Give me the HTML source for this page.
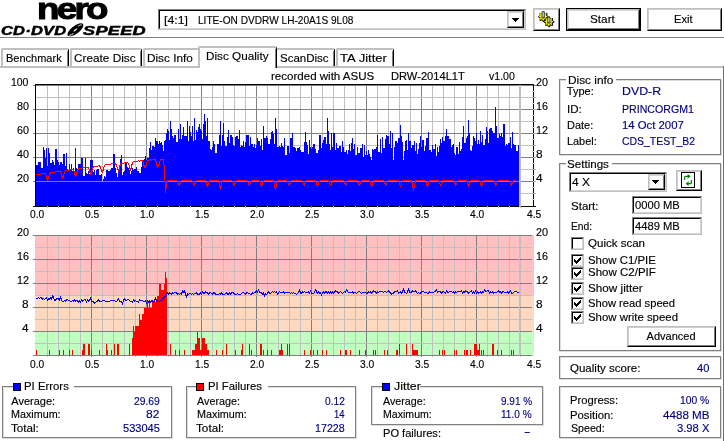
<!DOCTYPE html>
<html lang="en"><head><meta charset="utf-8"><title>Nero CD-DVD Speed</title>
<style>
html,body{margin:0;padding:0;background:#fff;}
body{width:724px;height:441px;position:relative;overflow:hidden;font-family:"Liberation Sans",sans-serif;font-size:11px;color:#000;}
.t{position:absolute;white-space:pre;line-height:14px;transform-origin:0 0;-webkit-text-stroke:0.15px currentColor;}
#logo{position:absolute;left:0;top:0;width:150px;height:37px;}
.nero{position:absolute;left:36.5px;top:-8.5px;-webkit-text-stroke:1px #000;font-size:30px;font-weight:bold;letter-spacing:-2.2px;line-height:34px;transform:scaleX(1.225);transform-origin:0 0;}
.cds{position:absolute;left:1px;top:23px;-webkit-text-stroke:0.5px #000;font-size:12.5px;font-weight:bold;font-style:italic;line-height:16px;transform:scaleX(1.31);transform-origin:0 0;letter-spacing:0.2px;}
.cds2{left:83px;transform:scaleX(1.45);}
.disc{position:absolute;left:65px;top:21px;}
.arr{position:absolute;left:4px;top:6px;}
</style></head>
<body>
<div id="logo">
<span class="nero">nero</span>
<span class="cds">CD·DVD</span><svg class="disc" width="20" height="18" viewBox="65 21 20 18"><g transform="rotate(-37 75.4 29.8)"><ellipse cx="75.4" cy="29.8" rx="9.5" ry="3.9" fill="#000"/><ellipse cx="75.2" cy="29.9" rx="2.4" ry="0.75" fill="#fff"/><path d="M79.5 28.3 Q82 28.6 83.6 29.6" stroke="#fff" stroke-width="0.7" fill="none"/><path d="M67.2 30.6 Q69 31.6 71.6 31.6" stroke="#fff" stroke-width="0.9" fill="none"/></g></svg><span class="cds cds2">SPEED</span>
</div>
<div style="position:absolute;left:0px;top:37px;width:724px;height:1px;background:#808080;"></div>
<div style="position:absolute;left:158px;top:9px;width:368px;height:21px;box-sizing:border-box;border:1px solid;border-color:#808080 #c0c0c0 #c0c0c0 #808080;background:#fff;"><div style="position:absolute;inset:0;border:1px solid;border-color:#000 #d4d4d4 #d4d4d4 #000;"></div></div>
<div style="position:absolute;left:507px;top:11px;width:17px;height:17px;box-sizing:border-box;border:1px solid;border-color:#c0c0c0 #000 #000 #c0c0c0;background:#fff;"><div style="position:absolute;inset:0;border:1px solid;border-color:#d4d4d4 #808080 #808080 #d4d4d4;"></div><svg class="arr" style="left:4px;top:6px" width="7" height="4" viewBox="0 0 7 4" shape-rendering="crispEdges"><path d="M0 0h7v1h-1v1h-1v1h-1v1h-1v-1h-1v-1h-1v-1h-1z" fill="#000"/></svg></div>
<span class="t th" style="left:164.04px;top:13.19px;font-size:11px;transform:scaleX(1.1205);">[4:1]</span>
<span class="t th" style="left:198.04px;top:13.19px;font-size:11px;transform:scaleX(0.9191);">LITE-ON DVDRW LH-20A1S 9L08</span>
<div style="position:absolute;left:533px;top:8px;width:27px;height:23px;box-sizing:border-box;border:1px solid;border-color:#c0c0c0 #000 #000 #c0c0c0;background:#fff;"><div style="position:absolute;inset:0;border:1px solid;border-color:#cfcfcf #808080 #808080 #cfcfcf;"></div></div>
<svg width="27" height="23" viewBox="533 8 27 23" style="position:absolute;left:533px;top:8px"><path d="M548.77,16.28L548.77,17.32L547.42,17.99L547.12,18.73L547.60,20.16L546.86,20.90L545.43,20.42L544.69,20.72L544.02,22.07L542.98,22.07L542.31,20.72L541.57,20.42L540.14,20.90L539.40,20.16L539.88,18.73L539.58,17.99L538.23,17.32L538.23,16.28L539.58,15.61L539.88,14.87L539.40,13.44L540.14,12.70L541.57,13.18L542.31,12.88L542.98,11.53L544.02,11.53L544.69,12.88L545.43,13.18L546.86,12.70L547.60,13.44L547.12,14.87L547.42,15.61Z" fill="#000"/><path d="M547.48,15.98L547.48,16.82L546.17,17.30L545.93,17.86L546.52,19.13L545.93,19.72L544.66,19.13L544.10,19.37L543.62,20.68L542.78,20.68L542.30,19.37L541.74,19.13L540.47,19.72L539.88,19.13L540.47,17.86L540.23,17.30L538.92,16.82L538.92,15.98L540.23,15.50L540.47,14.94L539.88,13.67L540.47,13.08L541.74,13.67L542.30,13.43L542.78,12.12L543.62,12.12L544.10,13.43L544.66,13.67L545.93,13.08L546.52,13.67L545.93,14.94L546.17,15.50Z" fill="#f8f400"/><circle cx="543.2" cy="17.0" r="1.9" fill="#8c8800"/><rect x="542.0" y="12.0" width="2.4" height="5.2" fill="#b8b8c4" stroke="#3c3c44" stroke-width="0.7"/><path d="M541.7,12.1 l1.5,-1.3 l1.5,1.3z" fill="#44444c"/><path d="M554.37,21.48L554.37,22.52L553.02,23.19L552.72,23.93L553.20,25.36L552.46,26.10L551.03,25.62L550.29,25.92L549.62,27.27L548.58,27.27L547.91,25.92L547.17,25.62L545.74,26.10L545.00,25.36L545.48,23.93L545.18,23.19L543.83,22.52L543.83,21.48L545.18,20.81L545.48,20.07L545.00,18.64L545.74,17.90L547.17,18.38L547.91,18.08L548.58,16.73L549.62,16.73L550.29,18.08L551.03,18.38L552.46,17.90L553.20,18.64L552.72,20.07L553.02,20.81Z" fill="#000"/><path d="M553.08,21.18L553.08,22.02L551.77,22.50L551.53,23.06L552.12,24.33L551.53,24.92L550.26,24.33L549.70,24.57L549.22,25.88L548.38,25.88L547.90,24.57L547.34,24.33L546.07,24.92L545.48,24.33L546.07,23.06L545.83,22.50L544.52,22.02L544.52,21.18L545.83,20.70L546.07,20.14L545.48,18.87L546.07,18.28L547.34,18.87L547.90,18.63L548.38,17.32L549.22,17.32L549.70,18.63L550.26,18.87L551.53,18.28L552.12,18.87L551.53,20.14L551.77,20.70Z" fill="#f8f400"/><circle cx="548.8" cy="22.200000000000003" r="1.9" fill="#8c8800"/><rect x="547.6" y="17.2" width="2.4" height="5.2" fill="#b8b8c4" stroke="#3c3c44" stroke-width="0.7"/><path d="M547.3,17.3 l1.5,-1.3 l1.5,1.3z" fill="#44444c"/></svg>
<div style="position:absolute;left:566px;top:8px;width:75px;height:23px;box-sizing:border-box;border:1px solid #000;background:#fff;"><div style="position:absolute;inset:0;border:1px solid;border-color:#c0c0c0 #000 #000 #c0c0c0;"><div style="position:absolute;inset:0;border:1px solid;border-color:#d8d8d8 #808080 #808080 #d8d8d8;"></div></div></div>
<span class="t th" style="left:590.07px;top:12.19px;font-size:11px;transform:scaleX(1.0697);">Start</span>
<div style="position:absolute;left:647px;top:8px;width:75px;height:23px;box-sizing:border-box;border:1px solid;border-color:#c0c0c0 #000 #000 #c0c0c0;background:#fff;"><div style="position:absolute;inset:0;border:1px solid;border-color:#cfcfcf #808080 #808080 #cfcfcf;"></div></div>
<span class="t th" style="left:673.89px;top:12.19px;font-size:11px;transform:scaleX(1.0148);">Exit</span>
<div style="position:absolute;left:0px;top:66px;width:724px;height:2px;background:#c0c0c0;"></div>
<div style="position:absolute;left:723px;top:66px;width:1px;height:375px;background:#6c6c6c;"></div>
<div style="position:absolute;left:1px;top:48px;width:68px;height:18px;box-sizing:border-box;background:#fff;border-top:2px solid #c0c0c0;border-left:2px solid #c0c0c0;border-right:1px solid #000;border-top-left-radius:2px;border-top-right-radius:2px;"><div style="position:absolute;right:0;top:1px;bottom:0;width:1px;background:#808080;"></div></div>
<span class="t " style="left:6.00px;top:51.19px;font-size:11px;">Benchmark</span>
<div style="position:absolute;left:70px;top:48px;width:72px;height:18px;box-sizing:border-box;background:#fff;border-top:2px solid #c0c0c0;border-left:2px solid #c0c0c0;border-right:1px solid #000;border-top-left-radius:2px;border-top-right-radius:2px;"><div style="position:absolute;right:0;top:1px;bottom:0;width:1px;background:#808080;"></div></div>
<span class="t " style="left:73.96px;top:51.19px;font-size:11px;transform:scaleX(1.0714);">Create Disc</span>
<div style="position:absolute;left:143px;top:48px;width:57px;height:18px;box-sizing:border-box;background:#fff;border-top:2px solid #c0c0c0;border-left:2px solid #c0c0c0;border-right:1px solid #000;border-top-left-radius:2px;border-top-right-radius:2px;"><div style="position:absolute;right:0;top:1px;bottom:0;width:1px;background:#808080;"></div></div>
<span class="t " style="left:147.47px;top:51.19px;font-size:11px;transform:scaleX(1.0691);">Disc Info</span>
<div style="position:absolute;left:275px;top:48px;width:60px;height:18px;box-sizing:border-box;background:#fff;border-top:2px solid #c0c0c0;border-left:2px solid #c0c0c0;border-right:1px solid #000;border-top-left-radius:2px;border-top-right-radius:2px;"><div style="position:absolute;right:0;top:1px;bottom:0;width:1px;background:#808080;"></div></div>
<span class="t " style="left:280.28px;top:51.19px;font-size:11px;transform:scaleX(1.0447);">ScanDisc</span>
<div style="position:absolute;left:336px;top:48px;width:58px;height:18px;box-sizing:border-box;background:#fff;border-top:2px solid #c0c0c0;border-left:2px solid #c0c0c0;border-right:1px solid #000;border-top-left-radius:2px;border-top-right-radius:2px;"><div style="position:absolute;right:0;top:1px;bottom:0;width:1px;background:#808080;"></div></div>
<span class="t " style="left:340.21px;top:51.19px;font-size:11px;transform:scaleX(1.1882);">TA Jitter</span>
<div style="position:absolute;left:198px;top:46px;width:79px;height:22px;box-sizing:border-box;background:#fff;border-top:2px solid #c0c0c0;border-left:2px solid #c0c0c0;border-right:1px solid #000;border-top-left-radius:2px;border-top-right-radius:2px;"><div style="position:absolute;right:0;top:1px;bottom:0;width:1px;background:#808080;"></div></div>
<span class="t " style="left:206.27px;top:49.19px;font-size:11px;transform:scaleX(1.0661);">Disc Quality</span>
<span class="t " style="left:270.98px;top:69.19px;font-size:11px;transform:scaleX(1.0494);">recorded with ASUS</span>
<span class="t " style="left:391.19px;top:69.19px;font-size:11px;transform:scaleX(1.0116);">DRW-2014L1T</span>
<span class="t " style="left:488.92px;top:69.19px;font-size:11px;transform:scaleX(0.9600);">v1.00</span>
<svg width="560" height="300" viewBox="0 70 560 300" style="position:absolute;left:0;top:70px" shape-rendering="crispEdges">
<rect x="35" y="235" width="499" height="61" fill="#ffc0c0"/>
<rect x="35" y="296" width="499" height="36" fill="#ffd8c0"/>
<rect x="35" y="332" width="499" height="24" fill="#c0ffc0"/>
<rect x="33" y="206" width="503" height="1" fill="#000"/>
<rect x="47" y="85" width="1" height="123" fill="#c0c0c0"/>
<rect x="58" y="85" width="1" height="123" fill="#c0c0c0"/>
<rect x="69" y="85" width="1" height="123" fill="#c0c0c0"/>
<rect x="80" y="85" width="1" height="123" fill="#c0c0c0"/>
<rect x="91" y="85" width="1" height="123" fill="#808080"/>
<rect x="102" y="85" width="1" height="123" fill="#c0c0c0"/>
<rect x="113" y="85" width="1" height="123" fill="#c0c0c0"/>
<rect x="124" y="85" width="1" height="123" fill="#c0c0c0"/>
<rect x="135" y="85" width="1" height="123" fill="#c0c0c0"/>
<rect x="146" y="85" width="1" height="123" fill="#808080"/>
<rect x="157" y="85" width="1" height="123" fill="#c0c0c0"/>
<rect x="168" y="85" width="1" height="123" fill="#c0c0c0"/>
<rect x="179" y="85" width="1" height="123" fill="#c0c0c0"/>
<rect x="190" y="85" width="1" height="123" fill="#c0c0c0"/>
<rect x="201" y="85" width="1" height="123" fill="#808080"/>
<rect x="212" y="85" width="1" height="123" fill="#c0c0c0"/>
<rect x="223" y="85" width="1" height="123" fill="#c0c0c0"/>
<rect x="234" y="85" width="1" height="123" fill="#c0c0c0"/>
<rect x="245" y="85" width="1" height="123" fill="#c0c0c0"/>
<rect x="256" y="85" width="1" height="123" fill="#808080"/>
<rect x="267" y="85" width="1" height="123" fill="#c0c0c0"/>
<rect x="278" y="85" width="1" height="123" fill="#c0c0c0"/>
<rect x="289" y="85" width="1" height="123" fill="#c0c0c0"/>
<rect x="300" y="85" width="1" height="123" fill="#c0c0c0"/>
<rect x="311" y="85" width="1" height="123" fill="#808080"/>
<rect x="322" y="85" width="1" height="123" fill="#c0c0c0"/>
<rect x="333" y="85" width="1" height="123" fill="#c0c0c0"/>
<rect x="344" y="85" width="1" height="123" fill="#c0c0c0"/>
<rect x="355" y="85" width="1" height="123" fill="#c0c0c0"/>
<rect x="366" y="85" width="1" height="123" fill="#808080"/>
<rect x="377" y="85" width="1" height="123" fill="#c0c0c0"/>
<rect x="388" y="85" width="1" height="123" fill="#c0c0c0"/>
<rect x="399" y="85" width="1" height="123" fill="#c0c0c0"/>
<rect x="410" y="85" width="1" height="123" fill="#c0c0c0"/>
<rect x="421" y="85" width="1" height="123" fill="#808080"/>
<rect x="432" y="85" width="1" height="123" fill="#c0c0c0"/>
<rect x="443" y="85" width="1" height="123" fill="#c0c0c0"/>
<rect x="454" y="85" width="1" height="123" fill="#c0c0c0"/>
<rect x="465" y="85" width="1" height="123" fill="#c0c0c0"/>
<rect x="476" y="85" width="1" height="123" fill="#808080"/>
<rect x="487" y="85" width="1" height="123" fill="#c0c0c0"/>
<rect x="498" y="85" width="1" height="123" fill="#c0c0c0"/>
<rect x="509" y="85" width="1" height="123" fill="#c0c0c0"/>
<rect x="520" y="85" width="1" height="123" fill="#c0c0c0"/>
<rect x="33" y="85" width="503" height="1" fill="#808080"/>
<rect x="35" y="97" width="501" height="1" fill="#c0c0c0"/>
<rect x="33" y="109" width="503" height="1" fill="#808080"/>
<rect x="35" y="121" width="501" height="1" fill="#c0c0c0"/>
<rect x="33" y="133" width="503" height="1" fill="#808080"/>
<rect x="35" y="145" width="501" height="1" fill="#c0c0c0"/>
<rect x="33" y="157" width="503" height="1" fill="#808080"/>
<rect x="35" y="169" width="501" height="1" fill="#c0c0c0"/>
<rect x="33" y="181" width="503" height="1" fill="#808080"/>
<rect x="35" y="193" width="501" height="1" fill="#c0c0c0"/>
<path d="M36,206V165H37V165H38V162H39V162H40V162H41V168H42V168H43V147H44V150H45V158H46V148H47V166H48V148H49V153H50V163H51V163H52V160H53V162H54V165H55V149H56V149H57V160H58V162H59V165H60V162H61V162H62V164H63V154H64V154H65V166H66V153H67V169H68V171H69V164H70V170H71V164H72V171H73V168H74V173H75V148H76V168H77V173H78V164H79V164H80V164H81V158H82V158H83V176H84V176H85V158H86V173H87V174H88V171H89V174H90V160H91V160H92V160H93V172H94V170H95V175H96V170H97V169H98V169H99V175H100V175H101V174H102V181H103V179H104V176H105V177H106V170H107V170H108V171H109V171H110V170H111V168H112V168H113V154H114V154H115V168H116V173H117V177H118V171H119V168H120V159H121V155H122V175H123V172H124V171H125V163H126V163H127V167H128V168H129V170H130V174H131V171H132V168H133V170H134V169H135V169H136V167H137V171H138V171H139V173H140V173H141V167H142V160H143V160H144V159H145V156H146V160H147V158H148V158H149V148H150V142H151V150H152V146H153V146H154V147H155V138H156V141H157V141H158V144H159V141H160V143H161V142H162V145H163V151H164V141H165V140H166V133H167V129H168V131H169V140H170V121H171V129H172V136H173V138H174V135H175V135H176V142H177V142H178V129H179V139H180V124H181V139H182V135H183V127H184V136H185V136H186V136H187V121H188V141H189V126H190V132H191V136H192V126H193V141H194V118H195V140H196V130H197V132H198V127H199V124H200V129H201V131H202V139H203V124H204V114H205V121H206V136H207V118H208V141H209V141H210V149H211V150H212V147H213V141H214V144H215V153H216V153H217V144H218V144H219V135H220V121H221V146H222V135H223V123H224V141H225V146H226V146H227V137H228V130H229V143H230V135H231V135H232V137H233V145H234V146H235V137H236V136H237V136H238V139H239V130H240V147H241V145H242V146H243V141H244V147H245V142H246V135H247V135H248V135H249V146H250V137H251V144H252V144H253V147H254V144H255V148H256V145H257V138H258V141H259V141H260V146H261V139H262V150H263V126H264V138H265V138H266V136H267V138H268V144H269V144H270V139H271V132H272V131H273V134H274V144H275V118H276V129H277V147H278V147H279V146H280V147H281V143H282V146H283V147H284V138H285V155H286V155H287V146H288V146H289V153H290V138H291V138H292V133H293V147H294V147H295V148H296V151H297V148H298V148H299V147H300V150H301V152H302V152H303V152H304V142H305V132H306V142H307V145H308V154H309V140H310V147H311V149H312V147H313V144H314V144H315V149H316V153H317V153H318V150H319V135H320V135H321V148H322V143H323V140H324V137H325V137H326V144H327V118H328V131H329V144H330V150H331V133H332V147H333V133H334V133H335V150H336V143H337V148H338V148H339V146H340V146H341V152H342V141H343V147H344V152H345V152H346V150H347V154H348V150H349V144H350V151H351V143H352V138H353V149H354V144H355V155H356V155H357V147H358V153H359V153H360V148H361V148H362V144H363V157H364V145H365V155H366V151H367V155H368V150H369V154H370V157H371V160H372V149H373V150H374V149H375V149H376V147H377V135H378V152H379V152H380V139H381V153H382V137H383V148H384V148H385V139H386V135H387V136H388V136H389V144H390V131H391V148H392V133H393V160H394V147H395V141H396V141H397V143H398V138H399V138H400V125H401V136H402V142H403V160H404V151H405V141H406V140H407V150H408V133H409V141H410V141H411V148H412V145H413V145H414V141H415V151H416V143H417V154H418V149H419V143H420V136H421V147H422V140H423V140H424V151H425V146H426V138H427V138H428V132H429V150H430V150H431V152H432V145H433V149H434V149H435V144H436V156H437V147H438V152H439V146H440V139H441V143H442V137H443V141H444V141H445V136H446V129H447V136H448V136H449V139H450V139H451V147H452V145H453V144H454V153H455V155H456V147H457V147H458V154H459V142H460V151H461V149H462V137H463V126H464V143H465V143H466V138H467V136H468V120H469V133H470V150H471V151H472V146H473V136H474V138H475V141H476V133H477V144H478V140H479V144H480V131H481V142H482V135H483V145H484V145H485V139H486V127H487V131H488V143H489V129H490V128H491V128H492V131H493V133H494V133H495V107H496V126H497V138H498V138H499V134H500V136H501V133H502V137H503V124H504V124H505V146H506V144H507V145H508V143H509V143H510V137H511V148H512V132H513V144H514V145H515V145H516V151H517V151H518V145H519V143H520V206Z" fill="#0000ff"/>
<rect x="33" y="181" width="503" height="1" fill="#808080"/>
<rect x="519" y="85" width="2" height="122" fill="#c0c0c0"/>
<rect x="35" y="84" width="499" height="1" fill="#000"/>
<rect x="35" y="84" width="1" height="123" fill="#000"/>
<rect x="533" y="84" width="1" height="123" fill="#000"/>
<rect x="532" y="91" width="3" height="1" fill="#d0d0d0"/>
<rect x="532" y="97" width="4" height="1" fill="#b0b0b0"/>
<rect x="532" y="103" width="3" height="1" fill="#d0d0d0"/>
<rect x="532" y="109" width="4" height="1" fill="#b0b0b0"/>
<rect x="532" y="115" width="3" height="1" fill="#d0d0d0"/>
<rect x="532" y="121" width="4" height="1" fill="#b0b0b0"/>
<rect x="532" y="127" width="3" height="1" fill="#d0d0d0"/>
<rect x="532" y="133" width="4" height="1" fill="#b0b0b0"/>
<rect x="532" y="139" width="3" height="1" fill="#d0d0d0"/>
<rect x="532" y="145" width="4" height="1" fill="#b0b0b0"/>
<rect x="532" y="151" width="3" height="1" fill="#d0d0d0"/>
<rect x="532" y="157" width="4" height="1" fill="#b0b0b0"/>
<rect x="532" y="163" width="3" height="1" fill="#d0d0d0"/>
<rect x="532" y="169" width="4" height="1" fill="#b0b0b0"/>
<rect x="532" y="175" width="3" height="1" fill="#d0d0d0"/>
<rect x="532" y="181" width="4" height="1" fill="#b0b0b0"/>
<rect x="532" y="187" width="3" height="1" fill="#d0d0d0"/>
<rect x="532" y="193" width="4" height="1" fill="#b0b0b0"/>
<rect x="532" y="199" width="3" height="1" fill="#d0d0d0"/>
<path d="M36,174h1v1h-1zM37,174h1v1h-1zM38,174h1v1h-1zM39,174h1v1h-1zM40,174h1v1h-1zM41,173h1v1h-1zM42,173h1v1h-1zM43,173h1v1h-1zM44,173h1v1h-1zM45,173h1v2h-1zM46,175h1v4h-1zM47,178h1v3h-1zM48,176h1v4h-1zM49,173h1v4h-1zM50,172h1v2h-1zM51,172h1v1h-1zM52,172h1v1h-1zM53,172h1v1h-1zM54,172h1v1h-1zM55,171h1v1h-1zM56,171h1v1h-1zM57,171h1v1h-1zM58,171h1v1h-1zM59,171h1v1h-1zM60,171h1v2h-1zM61,173h1v4h-1zM62,176h1v3h-1zM63,174h1v4h-1zM64,171h1v3h-1zM65,170h1v1h-1zM66,170h1v1h-1zM67,170h1v1h-1zM68,170h1v1h-1zM69,169h1v1h-1zM70,169h1v1h-1zM71,169h1v1h-1zM72,169h1v1h-1zM73,169h1v2h-1zM74,171h1v4h-1zM75,174h1v3h-1zM76,172h1v4h-1zM77,169h1v4h-1zM78,168h1v2h-1zM79,168h1v1h-1zM80,168h1v1h-1zM81,168h1v1h-1zM82,167h1v1h-1zM83,167h1v1h-1zM84,167h1v1h-1zM85,167h1v1h-1zM86,167h1v1h-1zM87,167h1v1h-1zM88,167h1v2h-1zM89,169h1v4h-1zM90,172h1v3h-1zM91,170h1v4h-1zM92,167h1v4h-1zM93,166h1v2h-1zM94,166h1v1h-1zM95,166h1v1h-1zM96,166h1v1h-1zM97,166h1v1h-1zM98,165h1v1h-1zM99,165h1v2h-1zM100,166h1v3h-1zM101,169h1v3h-1zM102,170h1v3h-1zM103,167h1v4h-1zM104,165h1v2h-1zM105,164h1v1h-1zM106,164h1v1h-1zM107,164h1v1h-1zM108,164h1v1h-1zM109,164h1v1h-1zM110,164h1v1h-1zM111,163h1v1h-1zM112,163h1v1h-1zM113,163h1v1h-1zM114,163h1v1h-1zM115,163h1v2h-1zM116,164h1v3h-1zM117,167h1v3h-1zM118,169h1v3h-1zM119,165h1v5h-1zM120,163h1v3h-1zM121,163h1v1h-1zM122,163h1v1h-1zM123,163h1v1h-1zM124,162h1v1h-1zM125,162h1v1h-1zM126,162h1v1h-1zM127,162h1v1h-1zM128,163h1v2h-1zM129,165h1v4h-1zM130,168h1v3h-1zM131,164h1v5h-1zM132,162h1v3h-1zM133,161h1v1h-1zM134,161h1v1h-1zM135,161h1v1h-1zM136,161h1v1h-1zM137,161h1v1h-1zM138,160h1v1h-1zM139,161h1v1h-1zM140,160h1v1h-1zM141,160h1v1h-1zM142,160h1v2h-1zM143,162h1v4h-1zM144,165h1v3h-1zM145,165h1v3h-1zM146,162h1v4h-1zM147,160h1v2h-1zM148,160h1v1h-1zM149,160h1v1h-1zM150,159h1v1h-1zM151,160h1v1h-1zM152,159h1v1h-1zM153,159h1v1h-1zM154,159h1v1h-1zM155,159h1v3h-1zM156,161h1v5h-1zM157,165h1v3h-1zM158,164h1v3h-1zM159,161h1v4h-1zM160,159h1v2h-1zM161,159h1v1h-1zM162,159h1v1h-1zM163,159h1v6h-1zM164,165h1v17h-1zM165,181h1v12h-1zM166,183h1v6h-1zM167,180h1v3h-1zM168,180h1v1h-1zM169,180h1v1h-1zM170,180h1v1h-1zM171,180h1v1h-1zM172,180h1v1h-1zM173,180h1v1h-1zM174,180h1v1h-1zM175,180h1v1h-1zM176,180h1v1h-1zM177,181h1v2h-1zM178,183h1v2h-1zM179,183h1v3h-1zM180,181h1v3h-1zM181,180h1v1h-1zM182,180h1v1h-1zM183,180h1v1h-1zM184,180h1v1h-1zM185,180h1v1h-1zM186,180h1v1h-1zM187,180h1v1h-1zM188,180h1v1h-1zM189,180h1v1h-1zM190,180h1v1h-1zM191,180h1v1h-1zM192,181h1v2h-1zM193,183h1v2h-1zM194,183h1v3h-1zM195,181h1v3h-1zM196,180h1v1h-1zM197,180h1v1h-1zM198,180h1v1h-1zM199,180h1v1h-1zM200,180h1v1h-1zM201,180h1v1h-1zM202,180h1v1h-1zM203,180h1v1h-1zM204,180h1v1h-1zM205,180h1v3h-1zM206,182h1v4h-1zM207,184h1v3h-1zM208,181h1v4h-1zM209,180h1v2h-1zM210,180h1v1h-1zM211,180h1v1h-1zM212,180h1v1h-1zM213,180h1v1h-1zM214,180h1v1h-1zM215,180h1v1h-1zM216,180h1v1h-1zM217,180h1v1h-1zM218,180h1v3h-1zM219,183h1v5h-1zM220,186h1v4h-1zM221,182h1v5h-1zM222,180h1v2h-1zM223,180h1v1h-1zM224,180h1v1h-1zM225,180h1v1h-1zM226,180h1v1h-1zM227,180h1v1h-1zM228,180h1v1h-1zM229,180h1v1h-1zM230,180h1v1h-1zM231,180h1v1h-1zM232,181h1v2h-1zM233,183h1v2h-1zM234,183h1v3h-1zM235,181h1v3h-1zM236,180h1v1h-1zM237,180h1v1h-1zM238,180h1v1h-1zM239,180h1v1h-1zM240,180h1v1h-1zM241,180h1v1h-1zM242,180h1v1h-1zM243,180h1v1h-1zM244,180h1v1h-1zM245,180h1v1h-1zM246,180h1v1h-1zM247,180h1v3h-1zM248,182h1v3h-1zM249,184h1v2h-1zM250,181h1v3h-1zM251,180h1v2h-1zM252,180h1v1h-1zM253,180h1v1h-1zM254,180h1v1h-1zM255,180h1v1h-1zM256,180h1v1h-1zM257,180h1v1h-1zM258,180h1v1h-1zM259,180h1v2h-1zM260,181h1v4h-1zM261,184h1v3h-1zM262,182h1v3h-1zM263,180h1v2h-1zM264,180h1v1h-1zM265,180h1v1h-1zM266,180h1v1h-1zM267,180h1v1h-1zM268,180h1v1h-1zM269,180h1v1h-1zM270,180h1v1h-1zM271,180h1v1h-1zM272,180h1v1h-1zM273,180h1v3h-1zM274,183h1v5h-1zM275,187h1v3h-1zM276,182h1v5h-1zM277,180h1v3h-1zM278,180h1v1h-1zM279,180h1v1h-1zM280,180h1v1h-1zM281,180h1v1h-1zM282,180h1v1h-1zM283,180h1v1h-1zM284,180h1v1h-1zM285,180h1v1h-1zM286,180h1v1h-1zM287,181h1v2h-1zM288,183h1v2h-1zM289,183h1v3h-1zM290,181h1v3h-1zM291,180h1v1h-1zM292,180h1v1h-1zM293,180h1v1h-1zM294,180h1v1h-1zM295,180h1v1h-1zM296,180h1v1h-1zM297,180h1v1h-1zM298,180h1v1h-1zM299,180h1v1h-1zM300,180h1v1h-1zM301,180h1v1h-1zM302,181h1v2h-1zM303,183h1v2h-1zM304,183h1v3h-1zM305,181h1v3h-1zM306,180h1v1h-1zM307,180h1v1h-1zM308,180h1v1h-1zM309,180h1v1h-1zM310,180h1v1h-1zM311,180h1v1h-1zM312,180h1v1h-1zM313,180h1v1h-1zM314,180h1v1h-1zM315,180h1v2h-1zM316,182h1v3h-1zM317,184h1v3h-1zM318,181h1v4h-1zM319,180h1v2h-1zM320,180h1v1h-1zM321,180h1v1h-1zM322,180h1v1h-1zM323,180h1v1h-1zM324,180h1v1h-1zM325,180h1v1h-1zM326,180h1v1h-1zM327,180h1v1h-1zM328,180h1v2h-1zM329,181h1v3h-1zM330,184h1v2h-1zM331,182h1v3h-1zM332,180h1v3h-1zM333,180h1v1h-1zM334,180h1v1h-1zM335,180h1v1h-1zM336,180h1v1h-1zM337,180h1v1h-1zM338,180h1v1h-1zM339,180h1v1h-1zM340,180h1v1h-1zM341,180h1v1h-1zM342,180h1v1h-1zM343,180h1v1h-1zM344,181h1v3h-1zM345,183h1v3h-1zM346,183h1v2h-1zM347,181h1v2h-1zM348,180h1v1h-1zM349,180h1v1h-1zM350,180h1v1h-1zM351,180h1v1h-1zM352,180h1v1h-1zM353,180h1v1h-1zM354,180h1v1h-1zM355,180h1v1h-1zM356,180h1v1h-1zM357,180h1v3h-1zM358,182h1v3h-1zM359,184h1v2h-1zM360,181h1v3h-1zM361,180h1v2h-1zM362,180h1v1h-1zM363,180h1v1h-1zM364,180h1v1h-1zM365,180h1v1h-1zM366,180h1v1h-1zM367,180h1v1h-1zM368,180h1v1h-1zM369,180h1v2h-1zM370,181h1v4h-1zM371,184h1v3h-1zM372,182h1v4h-1zM373,180h1v3h-1zM374,180h1v1h-1zM375,180h1v1h-1zM376,180h1v1h-1zM377,180h1v1h-1zM378,180h1v1h-1zM379,180h1v1h-1zM380,180h1v1h-1zM381,180h1v1h-1zM382,180h1v1h-1zM383,180h1v1h-1zM384,181h1v3h-1zM385,183h1v3h-1zM386,183h1v2h-1zM387,181h1v2h-1zM388,180h1v1h-1zM389,180h1v1h-1zM390,180h1v1h-1zM391,180h1v1h-1zM392,180h1v1h-1zM393,180h1v1h-1zM394,180h1v1h-1zM395,180h1v1h-1zM396,180h1v1h-1zM397,180h1v1h-1zM398,180h1v2h-1zM399,182h1v3h-1zM400,185h1v2h-1zM401,182h1v3h-1zM402,180h1v2h-1zM403,180h1v1h-1zM404,180h1v1h-1zM405,180h1v1h-1zM406,180h1v1h-1zM407,180h1v1h-1zM408,180h1v1h-1zM409,180h1v1h-1zM410,180h1v1h-1zM411,180h1v3h-1zM412,182h1v6h-1zM413,187h1v4h-1zM414,183h1v5h-1zM415,180h1v3h-1zM416,180h1v1h-1zM417,180h1v1h-1zM418,180h1v1h-1zM419,180h1v1h-1zM420,180h1v1h-1zM421,180h1v1h-1zM422,180h1v1h-1zM423,180h1v1h-1zM424,180h1v1h-1zM425,180h1v3h-1zM426,182h1v4h-1zM427,184h1v3h-1zM428,181h1v4h-1zM429,180h1v2h-1zM430,180h1v1h-1zM431,180h1v1h-1zM432,180h1v1h-1zM433,180h1v1h-1zM434,180h1v1h-1zM435,180h1v1h-1zM436,180h1v1h-1zM437,180h1v1h-1zM438,180h1v2h-1zM439,181h1v3h-1zM440,184h1v2h-1zM441,182h1v3h-1zM442,180h1v3h-1zM443,180h1v1h-1zM444,180h1v1h-1zM445,180h1v1h-1zM446,180h1v1h-1zM447,180h1v1h-1zM448,180h1v1h-1zM449,180h1v1h-1zM450,180h1v1h-1zM451,180h1v1h-1zM452,180h1v1h-1zM453,180h1v1h-1zM454,181h1v3h-1zM455,183h1v3h-1zM456,183h1v2h-1zM457,181h1v2h-1zM458,180h1v1h-1zM459,180h1v1h-1zM460,180h1v1h-1zM461,180h1v1h-1zM462,180h1v1h-1zM463,180h1v1h-1zM464,180h1v1h-1zM465,180h1v1h-1zM466,180h1v2h-1zM467,181h1v4h-1zM468,184h1v3h-1zM469,182h1v4h-1zM470,180h1v3h-1zM471,180h1v1h-1zM472,180h1v1h-1zM473,180h1v1h-1zM474,180h1v1h-1zM475,180h1v1h-1zM476,180h1v1h-1zM477,180h1v1h-1zM478,180h1v1h-1zM479,180h1v2h-1zM480,181h1v4h-1zM481,184h1v3h-1zM482,182h1v3h-1zM483,180h1v2h-1zM484,180h1v1h-1zM485,180h1v1h-1zM486,180h1v1h-1zM487,180h1v1h-1zM488,180h1v1h-1zM489,180h1v1h-1zM490,180h1v1h-1zM491,180h1v1h-1zM492,180h1v1h-1zM493,180h1v1h-1zM494,181h1v3h-1zM495,183h1v3h-1zM496,183h1v2h-1zM497,181h1v2h-1zM498,180h1v1h-1zM499,180h1v1h-1zM500,180h1v1h-1zM501,180h1v1h-1zM502,180h1v1h-1zM503,180h1v1h-1zM504,180h1v1h-1zM505,180h1v1h-1zM506,180h1v1h-1zM507,180h1v1h-1zM508,180h1v1h-1zM509,181h1v2h-1zM510,183h1v2h-1zM511,183h1v3h-1zM512,181h1v3h-1zM513,180h1v1h-1zM514,180h1v1h-1zM515,180h1v1h-1z" fill="#ff0000"/>
<rect x="47" y="235" width="1" height="122" fill="#c0c0c0"/>
<rect x="58" y="235" width="1" height="122" fill="#c0c0c0"/>
<rect x="69" y="235" width="1" height="122" fill="#c0c0c0"/>
<rect x="80" y="235" width="1" height="122" fill="#c0c0c0"/>
<rect x="91" y="235" width="1" height="122" fill="#808080"/>
<rect x="102" y="235" width="1" height="122" fill="#c0c0c0"/>
<rect x="113" y="235" width="1" height="122" fill="#c0c0c0"/>
<rect x="124" y="235" width="1" height="122" fill="#c0c0c0"/>
<rect x="135" y="235" width="1" height="122" fill="#c0c0c0"/>
<rect x="146" y="235" width="1" height="122" fill="#808080"/>
<rect x="157" y="235" width="1" height="122" fill="#c0c0c0"/>
<rect x="168" y="235" width="1" height="122" fill="#c0c0c0"/>
<rect x="179" y="235" width="1" height="122" fill="#c0c0c0"/>
<rect x="190" y="235" width="1" height="122" fill="#c0c0c0"/>
<rect x="201" y="235" width="1" height="122" fill="#808080"/>
<rect x="212" y="235" width="1" height="122" fill="#c0c0c0"/>
<rect x="223" y="235" width="1" height="122" fill="#c0c0c0"/>
<rect x="234" y="235" width="1" height="122" fill="#c0c0c0"/>
<rect x="245" y="235" width="1" height="122" fill="#c0c0c0"/>
<rect x="256" y="235" width="1" height="122" fill="#808080"/>
<rect x="267" y="235" width="1" height="122" fill="#c0c0c0"/>
<rect x="278" y="235" width="1" height="122" fill="#c0c0c0"/>
<rect x="289" y="235" width="1" height="122" fill="#c0c0c0"/>
<rect x="300" y="235" width="1" height="122" fill="#c0c0c0"/>
<rect x="311" y="235" width="1" height="122" fill="#808080"/>
<rect x="322" y="235" width="1" height="122" fill="#c0c0c0"/>
<rect x="333" y="235" width="1" height="122" fill="#c0c0c0"/>
<rect x="344" y="235" width="1" height="122" fill="#c0c0c0"/>
<rect x="355" y="235" width="1" height="122" fill="#c0c0c0"/>
<rect x="366" y="235" width="1" height="122" fill="#808080"/>
<rect x="377" y="235" width="1" height="122" fill="#c0c0c0"/>
<rect x="388" y="235" width="1" height="122" fill="#c0c0c0"/>
<rect x="399" y="235" width="1" height="122" fill="#c0c0c0"/>
<rect x="410" y="235" width="1" height="122" fill="#c0c0c0"/>
<rect x="421" y="235" width="1" height="122" fill="#808080"/>
<rect x="432" y="235" width="1" height="122" fill="#c0c0c0"/>
<rect x="443" y="235" width="1" height="122" fill="#c0c0c0"/>
<rect x="454" y="235" width="1" height="122" fill="#c0c0c0"/>
<rect x="465" y="235" width="1" height="122" fill="#c0c0c0"/>
<rect x="476" y="235" width="1" height="122" fill="#808080"/>
<rect x="487" y="235" width="1" height="122" fill="#c0c0c0"/>
<rect x="498" y="235" width="1" height="122" fill="#c0c0c0"/>
<rect x="509" y="235" width="1" height="122" fill="#c0c0c0"/>
<rect x="520" y="235" width="1" height="122" fill="#c0c0c0"/>
<rect x="33" y="235" width="499" height="1" fill="#808080"/>
<rect x="35" y="247" width="497" height="1" fill="#c0c0c0"/>
<rect x="33" y="259" width="499" height="1" fill="#808080"/>
<rect x="35" y="271" width="497" height="1" fill="#c0c0c0"/>
<rect x="33" y="283" width="499" height="1" fill="#808080"/>
<rect x="35" y="295" width="497" height="1" fill="#c0c0c0"/>
<rect x="33" y="307" width="499" height="1" fill="#808080"/>
<rect x="35" y="319" width="497" height="1" fill="#c0c0c0"/>
<rect x="33" y="331" width="499" height="1" fill="#808080"/>
<rect x="35" y="343" width="497" height="1" fill="#c0c0c0"/>
<rect x="33" y="355" width="499" height="1" fill="#808080"/>
<rect x="519" y="236" width="1" height="120" fill="#c0c0c0"/>
<path d="M36,355V350H37V355ZM49,355V350H50V355ZM59,355V350H60V355ZM63,355V350H64V355ZM69,355V350H70V355ZM72,355V350H73V355ZM99,355V350H100V355ZM107,355V350H108V355ZM111,355V350H112V355ZM175,355V350H176V355ZM179,355V350H180V355ZM184,355V350H185V355ZM216,355V350H217V355ZM222,355V350H223V355ZM235,355V350H236V355ZM251,355V350H252V355ZM263,355V350H264V355ZM267,355V350H268V355ZM304,355V350H305V355ZM310,355V350H311V355ZM313,355V350H314V355ZM317,355V350H318V355ZM322,355V350H323V355ZM326,355V350H327V355ZM340,355V350H341V355ZM350,355V350H351V355ZM359,355V350H360V355ZM365,355V350H366V355ZM373,355V350H374V355ZM375,355V350H376V355ZM384,355V350H385V355ZM387,355V350H388V355ZM439,355V350H440V355ZM442,355V350H443V355ZM444,355V350H445V355ZM456,355V350H457V355ZM464,355V350H465V355ZM466,355V350H467V355ZM467,355V350H468V355ZM470,355V350H471V355ZM481,355V350H482V355ZM483,355V350H484V355ZM497,355V350H498V355ZM501,355V350H502V355ZM511,355V350H512V355ZM513,355V350H514V355ZM106,355V344H107V355ZM114,355V344H115V355ZM129,355V344H130V355ZM170,355V344H171V355ZM226,355V344H227V355ZM242,355V344H243V355ZM249,355V344H250V355ZM287,355V344H288V355ZM289,355V344H290V355ZM399,355V344H400V355ZM406,355V344H407V355ZM412,355V344H413V355ZM479,355V344H480V355ZM492,355V344H493V355ZM82,355V350H83V355ZM83,355V344H85V355ZM88,355V344H90V355ZM91,355V350H92V355ZM117,355V344H119V355ZM241,355V350H242V355ZM260,355V344H262V355ZM271,355V350H272V355ZM279,355V350H283V355ZM281,355V344H282V355ZM345,355V350H347V355ZM340,355V350H341V355ZM346,355V350H347V355ZM396,355V350H398V355ZM413,355V350H418V355ZM454,355V350H455V355ZM474,355V344H477V355ZM477,355V350H479V355ZM492,355V344H494V355ZM192,355V350H195V355ZM195,355V344H197V355ZM197,355V332H198V355ZM198,355V338H200V355ZM200,355V350H202V355ZM202,355V338H205V355ZM205,355V344H207V355ZM207,355V350H209V355ZM132,355V338H133V355ZM133,355V326H134V355ZM134,355V332H135V355ZM135,355V326H136V355ZM136,355V326H137V355ZM137,355V326H138V355ZM138,355V326H139V355ZM139,355V314H140V355ZM140,355V320H141V355ZM141,355V320H142V355ZM142,355V314H143V355ZM143,355V314H144V355ZM144,355V308H145V355ZM145,355V308H146V355ZM146,355V308H147V355ZM147,355V302H148V355ZM148,355V308H149V355ZM149,355V302H150V355ZM150,355V308H151V355ZM151,355V308H152V355ZM152,355V302H153V355ZM153,355V302H154V355ZM154,355V302H155V355ZM155,355V302H156V355ZM156,355V302H157V355ZM157,355V296H158V355ZM158,355V296H159V355ZM159,355V284H160V355ZM160,355V284H161V355ZM161,355V290H162V355ZM162,355V290H163V355ZM163,355V290H164V355ZM164,355V284H165V355ZM165,355V272H166V355ZM166,355V278H167V355Z" fill="#ff0000"/>
<path d="M36,298h1v1h-1zM37,298h1v1h-1zM38,297h1v1h-1zM39,298h1v1h-1zM40,297h1v1h-1zM41,297h1v2h-1zM42,298h1v2h-1zM43,298h1v1h-1zM44,299h1v1h-1zM45,298h1v1h-1zM46,297h1v2h-1zM47,299h1v2h-1zM48,298h1v2h-1zM49,298h1v2h-1zM50,297h1v2h-1zM51,297h1v3h-1zM52,295h1v3h-1zM53,296h1v3h-1zM54,299h1v2h-1zM55,299h1v2h-1zM56,298h1v2h-1zM57,298h1v1h-1zM58,298h1v2h-1zM59,298h1v3h-1zM60,296h1v3h-1zM61,298h1v3h-1zM62,301h1v1h-1zM63,301h1v1h-1zM64,300h1v1h-1zM65,300h1v2h-1zM66,299h1v2h-1zM67,299h1v1h-1zM68,300h1v1h-1zM69,300h1v1h-1zM70,301h1v1h-1zM71,301h1v1h-1zM72,300h1v1h-1zM73,300h1v2h-1zM74,299h1v2h-1zM75,300h1v2h-1zM76,300h1v1h-1zM77,300h1v2h-1zM78,301h1v2h-1zM79,300h1v2h-1zM80,301h1v2h-1zM81,299h1v2h-1zM82,300h1v2h-1zM83,300h1v1h-1zM84,299h1v1h-1zM85,299h1v2h-1zM86,301h1v2h-1zM87,299h1v2h-1zM88,300h1v2h-1zM89,299h1v2h-1zM90,297h1v3h-1zM91,299h1v3h-1zM92,301h1v1h-1zM93,301h1v2h-1zM94,302h1v2h-1zM95,302h1v1h-1zM96,301h1v1h-1zM97,300h1v2h-1zM98,299h1v2h-1zM99,300h1v2h-1zM100,301h1v1h-1zM101,301h1v1h-1zM102,300h1v1h-1zM103,300h1v1h-1zM104,300h1v1h-1zM105,301h1v1h-1zM106,301h1v1h-1zM107,301h1v1h-1zM108,301h1v1h-1zM109,301h1v1h-1zM110,300h1v1h-1zM111,300h1v1h-1zM112,300h1v1h-1zM113,300h1v1h-1zM114,300h1v1h-1zM115,301h1v1h-1zM116,301h1v1h-1zM117,299h1v2h-1zM118,298h1v2h-1zM119,300h1v2h-1zM120,301h1v1h-1zM121,301h1v2h-1zM122,302h1v3h-1zM123,299h1v3h-1zM124,298h1v2h-1zM125,299h1v2h-1zM126,300h1v1h-1zM127,299h1v1h-1zM128,299h1v1h-1zM129,300h1v1h-1zM130,301h1v1h-1zM131,301h1v1h-1zM132,301h1v2h-1zM133,299h1v2h-1zM134,300h1v2h-1zM135,300h1v1h-1zM136,301h1v1h-1zM137,301h1v1h-1zM138,301h1v2h-1zM139,299h1v2h-1zM140,300h1v1h-1zM141,300h1v1h-1zM142,300h1v1h-1zM143,301h1v1h-1zM144,301h1v1h-1zM145,300h1v2h-1zM146,302h1v2h-1zM147,300h1v2h-1zM148,301h1v2h-1zM149,300h1v2h-1zM150,301h1v2h-1zM151,300h1v2h-1zM152,300h1v2h-1zM153,301h1v2h-1zM154,299h1v3h-1zM155,297h1v3h-1zM156,299h1v3h-1zM157,300h1v1h-1zM158,301h1v1h-1zM159,301h1v1h-1zM160,300h1v1h-1zM161,300h1v1h-1zM162,298h1v2h-1zM163,297h1v2h-1zM164,296h1v2h-1zM165,295h1v2h-1zM166,293h1v2h-1zM167,292h1v2h-1zM168,293h1v2h-1zM169,292h1v2h-1zM170,293h1v1h-1zM171,293h1v2h-1zM172,292h1v2h-1zM173,293h1v1h-1zM174,292h1v1h-1zM175,292h1v1h-1zM176,292h1v2h-1zM177,293h1v2h-1zM178,293h1v1h-1zM179,294h1v1h-1zM180,293h1v1h-1zM181,292h1v3h-1zM182,290h1v3h-1zM183,291h1v2h-1zM184,290h1v3h-1zM185,292h1v4h-1zM186,295h1v3h-1zM187,293h1v3h-1zM188,294h1v1h-1zM189,293h1v1h-1zM190,293h1v1h-1zM191,294h1v1h-1zM192,293h1v1h-1zM193,294h1v1h-1zM194,293h1v1h-1zM195,293h1v1h-1zM196,292h1v2h-1zM197,293h1v2h-1zM198,294h1v1h-1zM199,293h1v2h-1zM200,292h1v2h-1zM201,293h1v2h-1zM202,291h1v2h-1zM203,292h1v2h-1zM204,292h1v2h-1zM205,291h1v2h-1zM206,292h1v1h-1zM207,292h1v2h-1zM208,293h1v2h-1zM209,292h1v2h-1zM210,292h1v1h-1zM211,293h1v1h-1zM212,293h1v2h-1zM213,292h1v2h-1zM214,292h1v2h-1zM215,293h1v2h-1zM216,294h1v1h-1zM217,294h1v1h-1zM218,294h1v1h-1zM219,293h1v1h-1zM220,293h1v2h-1zM221,292h1v2h-1zM222,293h1v2h-1zM223,294h1v1h-1zM224,294h1v1h-1zM225,293h1v1h-1zM226,292h1v2h-1zM227,293h1v2h-1zM228,293h1v2h-1zM229,292h1v2h-1zM230,293h1v2h-1zM231,292h1v2h-1zM232,292h1v1h-1zM233,292h1v2h-1zM234,293h1v2h-1zM235,294h1v1h-1zM236,294h1v1h-1zM237,293h1v1h-1zM238,294h1v1h-1zM239,294h1v1h-1zM240,294h1v1h-1zM241,293h1v1h-1zM242,292h1v1h-1zM243,292h1v1h-1zM244,293h1v1h-1zM245,293h1v2h-1zM246,292h1v2h-1zM247,292h1v1h-1zM248,293h1v1h-1zM249,293h1v1h-1zM250,294h1v1h-1zM251,293h1v2h-1zM252,292h1v2h-1zM253,293h1v1h-1zM254,292h1v1h-1zM255,291h1v2h-1zM256,290h1v2h-1zM257,291h1v2h-1zM258,289h1v2h-1zM259,291h1v2h-1zM260,292h1v1h-1zM261,292h1v2h-1zM262,293h1v2h-1zM263,292h1v3h-1zM264,294h1v3h-1zM265,293h1v2h-1zM266,294h1v1h-1zM267,292h1v2h-1zM268,291h1v2h-1zM269,292h1v2h-1zM270,293h1v1h-1zM271,292h1v1h-1zM272,291h1v1h-1zM273,292h1v1h-1zM274,291h1v1h-1zM275,292h1v1h-1zM276,291h1v2h-1zM277,293h1v2h-1zM278,292h1v2h-1zM279,291h1v1h-1zM280,292h1v1h-1zM281,292h1v1h-1zM282,292h1v1h-1zM283,291h1v2h-1zM284,292h1v2h-1zM285,292h1v1h-1zM286,292h1v1h-1zM287,292h1v1h-1zM288,292h1v1h-1zM289,292h1v1h-1zM290,293h1v1h-1zM291,292h1v1h-1zM292,293h1v1h-1zM293,292h1v1h-1zM294,293h1v1h-1zM295,293h1v1h-1zM296,294h1v1h-1zM297,293h1v1h-1zM298,291h1v2h-1zM299,289h1v3h-1zM300,291h1v3h-1zM301,292h1v2h-1zM302,291h1v2h-1zM303,292h1v1h-1zM304,291h1v1h-1zM305,292h1v1h-1zM306,292h1v1h-1zM307,292h1v1h-1zM308,291h1v2h-1zM309,292h1v2h-1zM310,290h1v2h-1zM311,292h1v2h-1zM312,293h1v1h-1zM313,293h1v1h-1zM314,291h1v2h-1zM315,289h1v2h-1zM316,290h1v3h-1zM317,292h1v2h-1zM318,291h1v2h-1zM319,292h1v2h-1zM320,292h1v2h-1zM321,294h1v2h-1zM322,292h1v2h-1zM323,291h1v2h-1zM324,292h1v2h-1zM325,291h1v2h-1zM326,291h1v2h-1zM327,292h1v2h-1zM328,291h1v2h-1zM329,292h1v2h-1zM330,291h1v2h-1zM331,292h1v2h-1zM332,291h1v2h-1zM333,292h1v2h-1zM334,291h1v2h-1zM335,290h1v2h-1zM336,291h1v1h-1zM337,291h1v2h-1zM338,292h1v2h-1zM339,292h1v1h-1zM340,291h1v1h-1zM341,292h1v1h-1zM342,293h1v1h-1zM343,292h1v1h-1zM344,291h1v1h-1zM345,291h1v2h-1zM346,289h1v2h-1zM347,290h1v2h-1zM348,292h1v1h-1zM349,292h1v1h-1zM350,292h1v1h-1zM351,292h1v1h-1zM352,291h1v2h-1zM353,292h1v2h-1zM354,292h1v1h-1zM355,292h1v1h-1zM356,293h1v1h-1zM357,292h1v1h-1zM358,291h1v1h-1zM359,291h1v1h-1zM360,292h1v1h-1zM361,293h1v1h-1zM362,292h1v1h-1zM363,292h1v1h-1zM364,292h1v1h-1zM365,292h1v1h-1zM366,293h1v1h-1zM367,292h1v2h-1zM368,291h1v2h-1zM369,292h1v1h-1zM370,291h1v2h-1zM371,292h1v2h-1zM372,291h1v2h-1zM373,290h1v2h-1zM374,291h1v1h-1zM375,291h1v2h-1zM376,292h1v2h-1zM377,291h1v2h-1zM378,292h1v1h-1zM379,291h1v1h-1zM380,291h1v1h-1zM381,291h1v1h-1zM382,291h1v1h-1zM383,292h1v1h-1zM384,291h1v1h-1zM385,291h1v1h-1zM386,292h1v1h-1zM387,291h1v1h-1zM388,290h1v2h-1zM389,291h1v2h-1zM390,292h1v2h-1zM391,293h1v2h-1zM392,293h1v1h-1zM393,292h1v2h-1zM394,291h1v2h-1zM395,291h1v1h-1zM396,291h1v1h-1zM397,290h1v2h-1zM398,292h1v2h-1zM399,292h1v1h-1zM400,291h1v2h-1zM401,292h1v2h-1zM402,290h1v3h-1zM403,288h1v3h-1zM404,290h1v3h-1zM405,292h1v1h-1zM406,293h1v1h-1zM407,290h1v3h-1zM408,288h1v3h-1zM409,290h1v3h-1zM410,292h1v1h-1zM411,291h1v2h-1zM412,290h1v2h-1zM413,291h1v1h-1zM414,291h1v1h-1zM415,290h1v2h-1zM416,291h1v2h-1zM417,293h1v1h-1zM418,292h1v1h-1zM419,293h1v1h-1zM420,292h1v2h-1zM421,291h1v2h-1zM422,291h1v1h-1zM423,291h1v1h-1zM424,292h1v1h-1zM425,292h1v1h-1zM426,292h1v1h-1zM427,293h1v1h-1zM428,292h1v2h-1zM429,291h1v2h-1zM430,292h1v1h-1zM431,292h1v1h-1zM432,292h1v1h-1zM433,292h1v1h-1zM434,291h1v1h-1zM435,290h1v2h-1zM436,289h1v2h-1zM437,291h1v2h-1zM438,291h1v1h-1zM439,291h1v1h-1zM440,291h1v2h-1zM441,292h1v2h-1zM442,291h1v2h-1zM443,291h1v1h-1zM444,292h1v1h-1zM445,292h1v2h-1zM446,290h1v2h-1zM447,291h1v2h-1zM448,292h1v1h-1zM449,291h1v1h-1zM450,291h1v1h-1zM451,291h1v1h-1zM452,292h1v1h-1zM453,291h1v2h-1zM454,292h1v2h-1zM455,291h1v2h-1zM456,292h1v1h-1zM457,291h1v1h-1zM458,291h1v1h-1zM459,291h1v1h-1zM460,291h1v1h-1zM461,290h1v2h-1zM462,292h1v2h-1zM463,291h1v2h-1zM464,291h1v2h-1zM465,290h1v2h-1zM466,291h1v1h-1zM467,291h1v2h-1zM468,292h1v2h-1zM469,292h1v1h-1zM470,291h1v1h-1zM471,290h1v2h-1zM472,292h1v2h-1zM473,291h1v2h-1zM474,292h1v2h-1zM475,290h1v2h-1zM476,292h1v2h-1zM477,291h1v2h-1zM478,292h1v2h-1zM479,292h1v1h-1zM480,291h1v2h-1zM481,292h1v2h-1zM482,291h1v2h-1zM483,291h1v2h-1zM484,289h1v2h-1zM485,290h1v2h-1zM486,291h1v1h-1zM487,290h1v1h-1zM488,290h1v2h-1zM489,292h1v2h-1zM490,291h1v2h-1zM491,292h1v1h-1zM492,291h1v2h-1zM493,292h1v2h-1zM494,292h1v1h-1zM495,292h1v1h-1zM496,292h1v1h-1zM497,291h1v1h-1zM498,290h1v2h-1zM499,291h1v2h-1zM500,291h1v2h-1zM501,292h1v2h-1zM502,291h1v2h-1zM503,291h1v1h-1zM504,292h1v1h-1zM505,292h1v1h-1zM506,292h1v1h-1zM507,291h1v2h-1zM508,292h1v2h-1zM509,291h1v2h-1zM510,290h1v2h-1zM511,292h1v2h-1zM512,293h1v1h-1zM513,292h1v1h-1zM514,291h1v1h-1zM515,291h1v1h-1zM516,291h1v1h-1zM517,292h1v1h-1zM518,292h1v1h-1z" fill="#0000ff"/>
</svg>
<span class="t " style="left:11.33px;top:75.39px;font-size:11px;transform:scaleX(0.9496);">100</span>
<span class="t " style="left:16.81px;top:99.39px;font-size:11px;transform:scaleX(0.9778);">80</span>
<span class="t " style="left:16.81px;top:123.39px;font-size:11px;transform:scaleX(0.9778);">60</span>
<span class="t " style="left:16.81px;top:147.39px;font-size:11px;transform:scaleX(0.9778);">40</span>
<span class="t " style="left:16.81px;top:171.39px;font-size:11px;transform:scaleX(0.9778);">20</span>
<span class="t " style="left:16.81px;top:225.39px;font-size:11px;transform:scaleX(0.9778);">20</span>
<span class="t " style="left:16.81px;top:249.39px;font-size:11px;transform:scaleX(0.9778);">16</span>
<span class="t " style="left:16.81px;top:273.39px;font-size:11px;transform:scaleX(0.9778);">12</span>
<span class="t " style="left:22.26px;top:297.39px;font-size:11px;transform:scaleX(1.0732);">8</span>
<span class="t " style="left:22.26px;top:321.39px;font-size:11px;transform:scaleX(1.0732);">4</span>
<span class="t " style="left:536.01px;top:75.39px;font-size:11px;transform:scaleX(0.9778);">20</span>
<span class="t " style="left:536.01px;top:99.39px;font-size:11px;transform:scaleX(0.9778);">16</span>
<span class="t " style="left:536.01px;top:123.39px;font-size:11px;transform:scaleX(0.9778);">12</span>
<span class="t " style="left:535.96px;top:147.39px;font-size:11px;transform:scaleX(1.0732);">8</span>
<span class="t " style="left:535.96px;top:171.39px;font-size:11px;transform:scaleX(1.0732);">4</span>
<span class="t " style="left:536.01px;top:225.39px;font-size:11px;transform:scaleX(0.9778);">20</span>
<span class="t " style="left:536.01px;top:249.39px;font-size:11px;transform:scaleX(0.9778);">16</span>
<span class="t " style="left:536.01px;top:273.39px;font-size:11px;transform:scaleX(0.9778);">12</span>
<span class="t " style="left:535.96px;top:297.39px;font-size:11px;transform:scaleX(1.0732);">8</span>
<span class="t " style="left:535.96px;top:321.39px;font-size:11px;transform:scaleX(1.0732);">4</span>
<span class="t " style="left:30.24px;top:207.19px;font-size:11px;transform:scaleX(0.9293);">0.0</span>
<span class="t " style="left:30.24px;top:357.19px;font-size:11px;transform:scaleX(0.9293);">0.0</span>
<span class="t " style="left:85.24px;top:207.19px;font-size:11px;transform:scaleX(0.9293);">0.5</span>
<span class="t " style="left:85.24px;top:357.19px;font-size:11px;transform:scaleX(0.9293);">0.5</span>
<span class="t " style="left:140.24px;top:207.19px;font-size:11px;transform:scaleX(0.9293);">1.0</span>
<span class="t " style="left:140.24px;top:357.19px;font-size:11px;transform:scaleX(0.9293);">1.0</span>
<span class="t " style="left:195.24px;top:207.19px;font-size:11px;transform:scaleX(0.9293);">1.5</span>
<span class="t " style="left:195.24px;top:357.19px;font-size:11px;transform:scaleX(0.9293);">1.5</span>
<span class="t " style="left:250.24px;top:207.19px;font-size:11px;transform:scaleX(0.9293);">2.0</span>
<span class="t " style="left:250.24px;top:357.19px;font-size:11px;transform:scaleX(0.9293);">2.0</span>
<span class="t " style="left:305.24px;top:207.19px;font-size:11px;transform:scaleX(0.9293);">2.5</span>
<span class="t " style="left:305.24px;top:357.19px;font-size:11px;transform:scaleX(0.9293);">2.5</span>
<span class="t " style="left:360.24px;top:207.19px;font-size:11px;transform:scaleX(0.9293);">3.0</span>
<span class="t " style="left:360.24px;top:357.19px;font-size:11px;transform:scaleX(0.9293);">3.0</span>
<span class="t " style="left:415.24px;top:207.19px;font-size:11px;transform:scaleX(0.9293);">3.5</span>
<span class="t " style="left:415.24px;top:357.19px;font-size:11px;transform:scaleX(0.9293);">3.5</span>
<span class="t " style="left:470.24px;top:207.19px;font-size:11px;transform:scaleX(0.9293);">4.0</span>
<span class="t " style="left:470.24px;top:357.19px;font-size:11px;transform:scaleX(0.9293);">4.0</span>
<span class="t " style="left:526.74px;top:207.19px;font-size:11px;transform:scaleX(0.9293);">4.5</span>
<span class="t " style="left:526.74px;top:357.19px;font-size:11px;transform:scaleX(0.9293);">4.5</span>
<div style="position:absolute;left:559px;top:79px;width:162px;height:76px;box-sizing:border-box;border:1px solid #808080;box-shadow:1px 1px 0 #dcdcdc, inset 1px 1px 0 #dcdcdc;"></div>
<div style="position:absolute;left:566px;top:78px;width:50px;height:3px;background:#fff;"></div>
<span class="t " style="left:568.16px;top:73.19px;font-size:11px;transform:scaleX(1.0756);">Disc info</span>
<span class="t " style="left:566.80px;top:84.19px;font-size:11px;">Type:</span>
<span class="t " style="left:621.54px;top:84.19px;font-size:11px;color:#000080;transform:scaleX(1.1209);">DVD-R</span>
<span class="t " style="left:566.78px;top:101.59px;font-size:11px;transform:scaleX(1.0488);">ID:</span>
<span class="t " style="left:621.62px;top:101.59px;font-size:11px;color:#000080;transform:scaleX(0.9638);">PRINCORGM1</span>
<span class="t " style="left:566.80px;top:118.19px;font-size:11px;transform:scaleX(0.9956);">Date:</span>
<span class="t " style="left:621.58px;top:118.19px;font-size:11px;color:#000080;transform:scaleX(1.0305);">14 Oct 2007</span>
<span class="t " style="left:566.81px;top:134.49px;font-size:11px;transform:scaleX(0.9897);">Label:</span>
<span class="t " style="left:621.63px;top:134.49px;font-size:11px;color:#000080;transform:scaleX(0.9479);">CDS_TEST_B2</span>
<div style="position:absolute;left:559px;top:163px;width:162px;height:188px;box-sizing:border-box;border:1px solid #808080;box-shadow:1px 1px 0 #dcdcdc, inset 1px 1px 0 #dcdcdc;"></div>
<div style="position:absolute;left:566px;top:162px;width:46px;height:3px;background:#fff;"></div>
<span class="t " style="left:567.47px;top:156.69px;font-size:11px;transform:scaleX(1.0546);">Settings</span>
<div style="position:absolute;left:569px;top:172px;width:98px;height:20px;box-sizing:border-box;border:1px solid;border-color:#808080 #c0c0c0 #c0c0c0 #808080;background:#fff;"><div style="position:absolute;inset:0;border:1px solid;border-color:#000 #d4d4d4 #d4d4d4 #000;"></div></div>
<div style="position:absolute;left:648px;top:174px;width:17px;height:16px;box-sizing:border-box;border:1px solid;border-color:#c0c0c0 #000 #000 #c0c0c0;background:#fff;"><div style="position:absolute;inset:0;border:1px solid;border-color:#d4d4d4 #808080 #808080 #d4d4d4;"></div><svg class="arr" style="left:3px;top:5px" width="7" height="4" viewBox="0 0 7 4" shape-rendering="crispEdges"><path d="M0 0h7v1h-1v1h-1v1h-1v1h-1v-1h-1v-1h-1v-1h-1z" fill="#000"/></svg></div>
<span class="t " style="left:572.26px;top:175.39px;font-size:11px;transform:scaleX(1.0881);">4 X</span>
<div style="position:absolute;left:676px;top:170px;width:26px;height:21px;box-sizing:border-box;border:1px solid;border-color:#c0c0c0 #000 #000 #c0c0c0;background:#fff;"><div style="position:absolute;inset:0;border:1px solid;border-color:#cfcfcf #808080 #808080 #cfcfcf;"></div></div>
<svg width="14" height="16" viewBox="0 0 14 16" style="position:absolute;left:681px;top:172px"><rect x="0.5" y="0.5" width="13" height="15" fill="#fff" stroke="#000"/><path d="M3.6 8 V5.2 Q3.6 4.3 4.5 4.3 H7" fill="none" stroke="#008000" stroke-width="1.2"/><path d="M6.6 1.9 L9.6 4.3 L6.6 6.7 Z" fill="#008000"/><path d="M10.4 8 V10.8 Q10.4 11.7 9.5 11.7 H7" fill="none" stroke="#008000" stroke-width="1.2"/><path d="M7.6 9.3 L4.6 11.7 L7.6 14.1 Z" fill="#008000"/></svg>
<span class="t " style="left:570.58px;top:198.79px;font-size:11px;transform:scaleX(1.0469);">Start:</span>
<div style="position:absolute;left:632px;top:196px;width:70px;height:18px;box-sizing:border-box;border:1px solid;border-color:#808080 #c0c0c0 #c0c0c0 #808080;background:#fff;"><div style="position:absolute;inset:0;border:1px solid;border-color:#000 #d4d4d4 #d4d4d4 #000;"></div></div>
<span class="t " style="left:635.49px;top:198.19px;font-size:11px;transform:scaleX(1.0171);">0000 MB</span>
<span class="t " style="left:570.63px;top:219.39px;font-size:11px;transform:scaleX(0.9328);">End:</span>
<div style="position:absolute;left:632px;top:217px;width:70px;height:18px;box-sizing:border-box;border:1px solid;border-color:#808080 #c0c0c0 #c0c0c0 #808080;background:#fff;"><div style="position:absolute;inset:0;border:1px solid;border-color:#000 #d4d4d4 #d4d4d4 #000;"></div></div>
<span class="t " style="left:635.49px;top:219.19px;font-size:11px;transform:scaleX(1.0171);">4489 MB</span>
<div style="position:absolute;left:571px;top:237px;width:13px;height:13px;box-sizing:border-box;border:1px solid;border-color:#808080 #c0c0c0 #c0c0c0 #808080;background:#fff;"><div style="position:absolute;inset:0;border:1px solid;border-color:#000 #d4d4d4 #d4d4d4 #000;"></div></div>
<span class="t " style="left:588.38px;top:236.19px;font-size:11px;transform:scaleX(1.0480);">Quick scan</span>
<div style="position:absolute;left:571px;top:254px;width:13px;height:13px;box-sizing:border-box;border:1px solid;border-color:#808080 #c0c0c0 #c0c0c0 #808080;background:#fff;"><div style="position:absolute;inset:0;border:1px solid;border-color:#000 #d4d4d4 #d4d4d4 #000;"></div><svg width="13" height="13" viewBox="0 0 13 13" style="position:absolute;left:-1px;top:-1px" shape-rendering="crispEdges"><path d="M3 5h1v1h1v1h1v-1h1v-1h1v-1h1v-1h1v3h-1v1h-1v1h-1v1h-1v1h-1v-1h-1v-1h-1z" fill="#000"/></svg></div>
<span class="t " style="left:588.38px;top:252.99px;font-size:11px;transform:scaleX(1.0362);">Show C1/PIE</span>
<div style="position:absolute;left:571px;top:267px;width:13px;height:13px;box-sizing:border-box;border:1px solid;border-color:#808080 #c0c0c0 #c0c0c0 #808080;background:#fff;"><div style="position:absolute;inset:0;border:1px solid;border-color:#000 #d4d4d4 #d4d4d4 #000;"></div><svg width="13" height="13" viewBox="0 0 13 13" style="position:absolute;left:-1px;top:-1px" shape-rendering="crispEdges"><path d="M3 5h1v1h1v1h1v-1h1v-1h1v-1h1v-1h1v3h-1v1h-1v1h-1v1h-1v1h-1v-1h-1v-1h-1z" fill="#000"/></svg></div>
<span class="t " style="left:588.38px;top:265.49px;font-size:11px;transform:scaleX(1.0463);">Show C2/PIF</span>
<div style="position:absolute;left:571px;top:282px;width:13px;height:13px;box-sizing:border-box;border:1px solid;border-color:#808080 #c0c0c0 #c0c0c0 #808080;background:#fff;"><div style="position:absolute;inset:0;border:1px solid;border-color:#000 #d4d4d4 #d4d4d4 #000;"></div><svg width="13" height="13" viewBox="0 0 13 13" style="position:absolute;left:-1px;top:-1px" shape-rendering="crispEdges"><path d="M3 5h1v1h1v1h1v-1h1v-1h1v-1h1v-1h1v3h-1v1h-1v1h-1v1h-1v1h-1v-1h-1v-1h-1z" fill="#000"/></svg></div>
<span class="t " style="left:588.37px;top:280.69px;font-size:11px;transform:scaleX(1.0640);">Show jitter</span>
<div style="position:absolute;left:571px;top:297px;width:13px;height:13px;box-sizing:border-box;border:1px solid;border-color:#808080 #c0c0c0 #c0c0c0 #808080;background:#fff;"><div style="position:absolute;inset:0;border:1px solid;border-color:#000 #d4d4d4 #d4d4d4 #000;"></div><svg width="13" height="13" viewBox="0 0 13 13" style="position:absolute;left:-1px;top:-1px" shape-rendering="crispEdges"><path d="M3 5h1v1h1v1h1v-1h1v-1h1v-1h1v-1h1v3h-1v1h-1v1h-1v1h-1v1h-1v-1h-1v-1h-1z" fill="#000"/></svg></div>
<span class="t " style="left:588.39px;top:295.59px;font-size:11px;transform:scaleX(1.0167);">Show read speed</span>
<div style="position:absolute;left:571px;top:311px;width:13px;height:13px;box-sizing:border-box;border:1px solid;border-color:#808080 #c0c0c0 #c0c0c0 #808080;background:#fff;"><div style="position:absolute;inset:0;border:1px solid;border-color:#000 #d4d4d4 #d4d4d4 #000;"></div><svg width="13" height="13" viewBox="0 0 13 13" style="position:absolute;left:-1px;top:-1px" shape-rendering="crispEdges"><path d="M3 5h1v1h1v1h1v-1h1v-1h1v-1h1v-1h1v3h-1v1h-1v1h-1v1h-1v1h-1v-1h-1v-1h-1z" fill="#000"/></svg></div>
<span class="t " style="left:588.38px;top:309.99px;font-size:11px;transform:scaleX(1.0364);">Show write speed</span>
<div style="position:absolute;left:627px;top:326px;width:89px;height:21px;box-sizing:border-box;border:1px solid;border-color:#c0c0c0 #000 #000 #c0c0c0;background:#fff;"><div style="position:absolute;inset:0;border:1px solid;border-color:#cfcfcf #808080 #808080 #cfcfcf;"></div></div>
<span class="t " style="left:646.60px;top:329.29px;font-size:11px;">Advanced</span>
<div style="position:absolute;left:559px;top:356px;width:162px;height:23px;box-sizing:border-box;border:1px solid #808080;box-shadow:1px 1px 0 #dcdcdc, inset 1px 1px 0 #dcdcdc;"></div>
<span class="t " style="left:570.08px;top:360.79px;font-size:11px;transform:scaleX(1.0471);">Quality score:</span>
<span class="t " style="left:697.49px;top:360.79px;font-size:11px;color:#000080;transform:scaleX(1.0133);">40</span>
<div style="position:absolute;left:559px;top:386px;width:162px;height:52px;box-sizing:border-box;border:1px solid #808080;box-shadow:1px 1px 0 #dcdcdc, inset 1px 1px 0 #dcdcdc;"></div>
<span class="t " style="left:570.49px;top:392.79px;font-size:11px;transform:scaleX(1.0197);">Progress:</span>
<span class="t " style="left:680.43px;top:392.79px;font-size:11px;color:#000080;transform:scaleX(0.9365);">100 %</span>
<span class="t " style="left:570.49px;top:408.19px;font-size:11px;transform:scaleX(1.0287);">Position:</span>
<span class="t " style="left:663.17px;top:408.19px;font-size:11px;color:#000080;transform:scaleX(1.0566);">4488 MB</span>
<span class="t " style="left:570.52px;top:421.29px;font-size:11px;transform:scaleX(0.9644);">Speed:</span>
<span class="t " style="left:677.19px;top:421.29px;font-size:11px;color:#000080;transform:scaleX(1.0213);">3.98 X</span>
<div style="position:absolute;left:2px;top:386px;width:170px;height:52px;box-sizing:border-box;border:1px solid #808080;box-shadow:1px 1px 0 #dcdcdc, inset 1px 1px 0 #dcdcdc;"></div>
<div style="position:absolute;left:13px;top:385px;width:61px;height:3px;background:#fff;"></div>
<span class="t " style="left:23.88px;top:379.19px;font-size:11px;transform:scaleX(1.0329);">PI Errors</span>
<div style="position:absolute;left:13px;top:383px;width:8px;height:8px;background:#0000ff;box-sizing:border-box;border:1px solid #000;"></div>
<span class="t " style="left:11.30px;top:393.79px;font-size:11px;">Average:</span>
<span class="t " style="left:133.93px;top:393.79px;font-size:11px;color:#000080;transform:scaleX(0.9374);">29.69</span>
<span class="t " style="left:11.31px;top:407.39px;font-size:11px;transform:scaleX(0.9775);">Maximum:</span>
<span class="t " style="left:146.45px;top:407.39px;font-size:11px;color:#000080;transform:scaleX(1.0933);">82</span>
<span class="t " style="left:11.27px;top:420.59px;font-size:11px;transform:scaleX(1.0588);">Total:</span>
<span class="t " style="left:122.90px;top:420.59px;font-size:11px;color:#000080;transform:scaleX(1.0042);">533045</span>
<div style="position:absolute;left:186px;top:386px;width:170px;height:52px;box-sizing:border-box;border:1px solid #808080;box-shadow:1px 1px 0 #dcdcdc, inset 1px 1px 0 #dcdcdc;"></div>
<div style="position:absolute;left:196px;top:385px;width:72px;height:3px;background:#fff;"></div>
<span class="t " style="left:208.39px;top:379.19px;font-size:11px;transform:scaleX(1.0273);">PI Failures</span>
<div style="position:absolute;left:196px;top:383px;width:8px;height:8px;background:#ff0000;box-sizing:border-box;border:1px solid #000;"></div>
<span class="t " style="left:196.51px;top:393.79px;font-size:11px;transform:scaleX(0.9799);">Average:</span>
<span class="t " style="left:324.64px;top:393.79px;font-size:11px;color:#000080;transform:scaleX(0.9248);">0.12</span>
<span class="t " style="left:196.51px;top:407.39px;font-size:11px;transform:scaleX(0.9815);">Maximum:</span>
<span class="t " style="left:333.87px;top:407.39px;font-size:11px;color:#000080;transform:scaleX(0.8622);">14</span>
<span class="t " style="left:196.47px;top:420.59px;font-size:11px;transform:scaleX(1.0667);">Total:</span>
<span class="t " style="left:314.71px;top:420.59px;font-size:11px;color:#000080;transform:scaleX(0.9722);">17228</span>
<div style="position:absolute;left:371px;top:386px;width:172px;height:39px;box-sizing:border-box;border:1px solid #808080;box-shadow:1px 1px 0 #dcdcdc, inset 1px 1px 0 #dcdcdc;"></div>
<div style="position:absolute;left:382px;top:385px;width:38px;height:3px;background:#fff;"></div>
<span class="t " style="left:393.54px;top:379.19px;font-size:11px;transform:scaleX(1.1250);">Jitter</span>
<div style="position:absolute;left:382px;top:383px;width:8px;height:8px;background:#0000ff;box-sizing:border-box;border:1px solid #000;"></div>
<span class="t " style="left:382.61px;top:393.79px;font-size:11px;transform:scaleX(0.9729);">Average:</span>
<span class="t " style="left:500.75px;top:393.79px;font-size:11px;color:#000080;transform:scaleX(0.9074);">9.91 %</span>
<span class="t " style="left:382.62px;top:407.39px;font-size:11px;transform:scaleX(0.9614);">Maximum:</span>
<span class="t " style="left:501.24px;top:407.39px;font-size:11px;color:#000080;transform:scaleX(0.9147);">11.0 %</span>
<span class="t " style="left:382.50px;top:425.79px;font-size:11px;transform:scaleX(1.0088);">PO failures:</span>
<span class="t " style="left:523.72px;top:424.39px;font-size:11px;color:#000080;transform:scaleX(1.7694);">-</span>
</body></html>
